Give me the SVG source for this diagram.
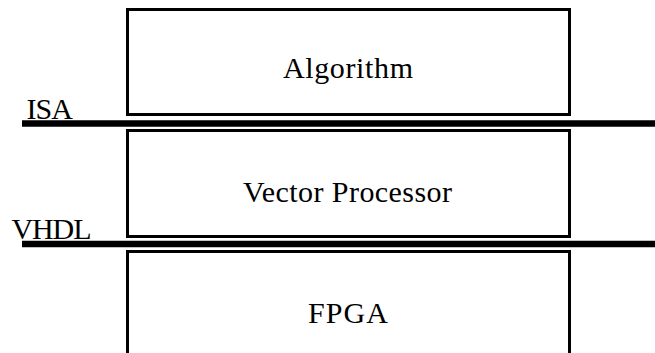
<svg xmlns="http://www.w3.org/2000/svg" width="655" height="353" viewBox="0 0 655 353">
<style>
.box{fill:#fff;stroke:#000;stroke-width:3}
.bar{stroke:#000;stroke-width:6.5;fill:none}
text{font-family:"Liberation Serif","DejaVu Serif",serif;font-size:30px;fill:#000}
</style>
<rect width="655" height="353" fill="#fff"/>
<g id="algorithm">
<rect class="box" x="127.5" y="9.5" width="442" height="105"/>
<text x="283" y="78" textLength="130" lengthAdjust="spacing">Algorithm</text>
</g>
<g id="vector-processor">
<rect class="box" x="127.5" y="130.5" width="442" height="106"/>
<text x="243" y="202" textLength="209" lengthAdjust="spacing">Vector Processor</text>
</g>
<g id="fpga">
<rect class="box" x="127.5" y="251.5" width="442" height="120"/>
<text x="308" y="322.5" textLength="80" lengthAdjust="spacing">FPGA</text>
</g>
<g id="connectors">
<line class="bar" x1="22" y1="123.5" x2="655" y2="123.5"/>
<line class="bar" x1="22" y1="244" x2="655" y2="244"/>
</g>
<g id="labels">
<text x="26.5" y="118.5" textLength="46.5" lengthAdjust="spacing">ISA</text>
<text x="11.5" y="238.5" textLength="80" lengthAdjust="spacing">VHDL</text>
</g>
</svg>
